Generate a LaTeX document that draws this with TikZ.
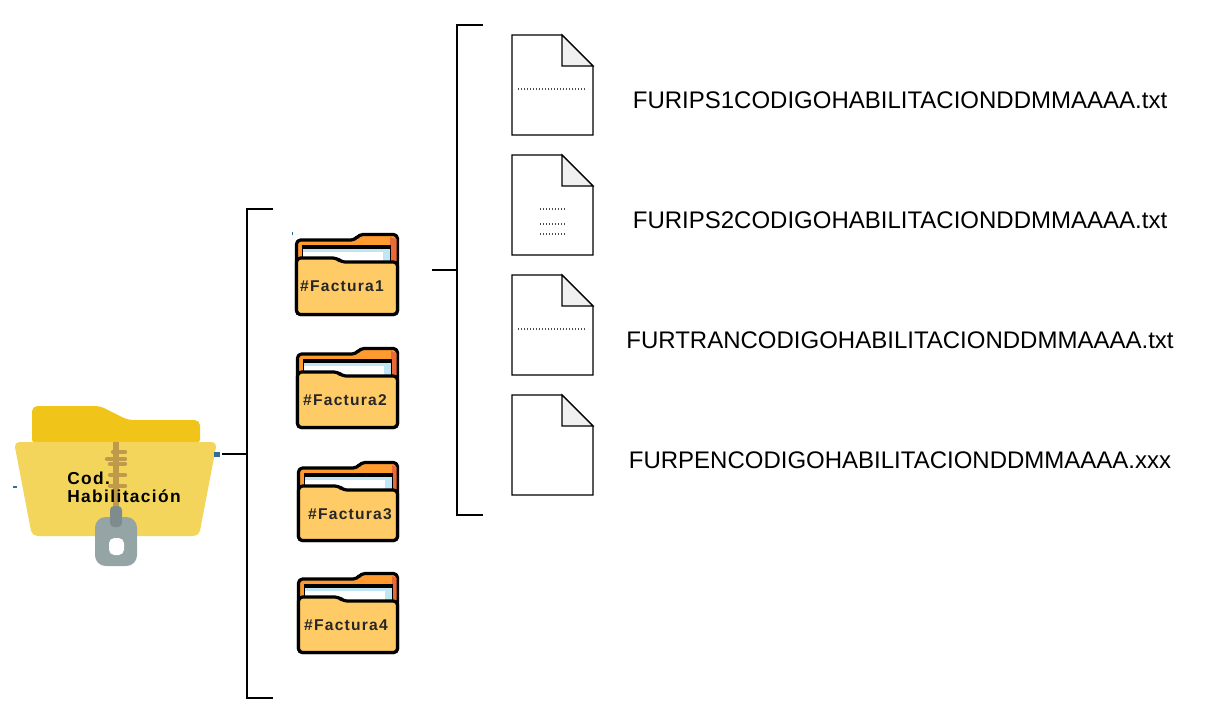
\documentclass[tikz,border=0pt]{standalone}
\usepackage{fontspec}
\setmainfont{Liberation Sans}
\newfontfamily\iconfont[LetterSpace=8]{Liberation Sans Bold}
\definecolor{backY}{HTML}{F0C419}
\definecolor{frontY}{HTML}{F3D55B}
\definecolor{zipC}{HTML}{BF9A4A}
\definecolor{lockC}{HTML}{95A5A6}
\definecolor{slideC}{HTML}{7F8C8D}
\definecolor{orangeT}{HTML}{FF9A2E}
\definecolor{orangeD}{HTML}{E8683A}
\definecolor{folderY}{HTML}{FFCB66}
\definecolor{paperB}{HTML}{BFE6F2}
\definecolor{foldG}{HTML}{F0F0F0}
\definecolor{tickB}{HTML}{2F6F96}
\tikzset{
  bracket/.style={draw=black,line width=1.5pt},
  docshape/.style={draw=black,line width=0.9pt,fill=white,line join=miter},
  docfold/.style={draw=black,line width=0.9pt,fill=foldG},
  filelabel/.style={font=\fontsize{18}{22}\selectfont,inner sep=0pt,text=black},
  factlabel/.style={font=\iconfont\fontsize{11.7}{14}\selectfont,inner sep=0pt,text=black!85},
  ziplabel/.style={font=\iconfont\fontsize{13}{13.5}\selectfont,inner sep=0pt,align=left,text=black},
  dotline/.style={draw=black!70,line width=1.4pt,dash pattern=on 0.75pt off 1.5pt},
  outl/.style={draw=black,line width=2.4pt,line join=round}
}
% #1 x, #2 y, #3 text, #4 label x offset, #5 name, #6 right, #7 bottom
\newcommand{\factfolder}[7]{%
 \begin{scope}[shift={(#1,#2)}]
  \path[fill=orangeT,outl,rounded corners=3pt] (1.5,#7)--(1.5,7)--(60,7)--(64,1.5)--(#6,1.5)--(#6,#7)--cycle;
  \fill[orangeD] (95,4)--(#6-1,6)--(#6-1,28)--(95,28)--cycle;
  \fill[black] (7,12) rectangle (96,30);
  \fill[white] (8,16) rectangle (95,30);
  \fill[paperB] (8,16) rectangle (95,19);
  \fill[paperB] (88,19) rectangle (95,30);
  \path[fill=folderY,outl,rounded corners=3pt] (1.5,#7)--(1.5,25)--(42,25)--(46,29)--(#6,29)--(#6,#7)--cycle;
  \node[factlabel] (#5) at (#4,53) {#3};
 \end{scope}}
% #1 top y, #2 name
\newcommand{\docicon}[2]{%
 \begin{scope}[shift={(512,#1)}]
  \path[docshape] (0,0)--(50,0)--(81,31)--(81,100)--(0,100)--cycle;
  \path[docfold] (50,0)--(81,31)--(50,31)--cycle;
  \coordinate (#2) at (0,50);
 \end{scope}}
\begin{document}
\begin{tikzpicture}[x=0.75pt,y=-0.75pt]
\useasboundingbox (0,0) rectangle (1212,726);

% zip folder
\path[fill=backY,rounded corners=4pt] (32,445)--(32,406)--(100,406)--(128,420)--(200,420)--(200,445)--cycle;
\path[fill=frontY,rounded corners=4pt] (14,442)--(217,442)--(199,536)--(32,536)--cycle;
\foreach \yy/\xa/\xb in {452/113/125,459/107/125,464/110/125,475/110/125,486/110/125}{
  \draw[zipC,line width=3.2pt,line cap=round] (\xa,\yy)--(\xb,\yy);}
\fill[zipC] (113,442) rectangle (119,510);
\path[fill=lockC,rounded corners=8pt] (95,517) rectangle (137,566);
\path[fill=white,rounded corners=4pt] (109,538) rectangle (124,555);
\path[fill=slideC,rounded corners=3pt] (110,506) rectangle (122,527);
\fill[tickB] (214,452) rectangle (220,457);
\fill[tickB] (13,486) rectangle (17,488);
\fill[tickB] (292,232) rectangle (293,235);
\node[ziplabel,anchor=west] (zip) at (67,487) {Cod.\\Habilitación};

% factura folders
\factfolder{295}{233}{\#Factura1}{47}{f1}{102.5}{81.5}
\factfolder{296}{347}{\#Factura2}{49}{f2}{101.5}{80.5}
\factfolder{297}{461}{\#Factura3}{53}{f3}{100.5}{79.5}
\factfolder{297}{572}{\#Factura4}{49}{f4}{100.5}{80.5}

% brackets
\coordinate (s1) at (222,454);
\coordinate (b1m) at (247,454);
\coordinate (b1t) at (273,209);
\coordinate (b1b) at (273,698);
\coordinate (s2) at (432,270);
\coordinate (b2m) at (457,270);
\coordinate (b2t) at (483,25);
\coordinate (b2b) at (483,515);
\draw[bracket] (s1)--(b1m);
\draw[bracket] (b1t)-|(b1m)|-(b1b);
\draw[bracket] (s2)--(b2m);
\draw[bracket] (b2t)-|(b2m)|-(b2b);

% documents
\docicon{35}{d1}
\docicon{155}{d2}
\docicon{275}{d3}
\docicon{395}{d4}
\draw[dotline] (518,89)--(587,89);
\draw[dotline] (540,209)--(565,209);
\draw[dotline] (540,224)--(565,224);
\draw[dotline] (540,234)--(565,234);
\draw[dotline] (518,329)--(587,329);

\node[filelabel] (t1) at (900,100) {FURIPS1CODIGOHABILITACIONDDMMAAAA.txt};
\node[filelabel] (t2) at (900,220) {FURIPS2CODIGOHABILITACIONDDMMAAAA.txt};
\node[filelabel] (t3) at (900,340) {FURTRANCODIGOHABILITACIONDDMMAAAA.txt};
\node[filelabel] (t4) at (900,460) {FURPENCODIGOHABILITACIONDDMMAAAA.xxx};
\end{tikzpicture}
\end{document}
